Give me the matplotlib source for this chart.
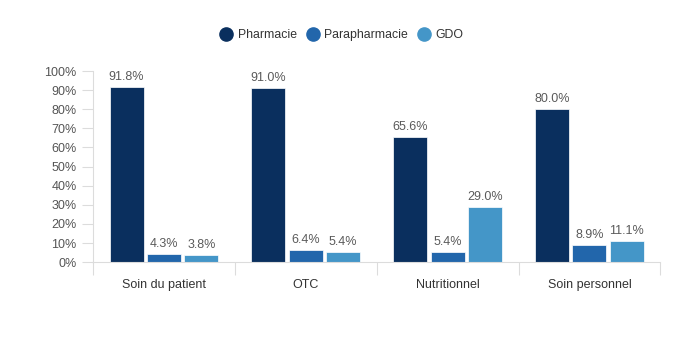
import numpy as np
import matplotlib
matplotlib.use("Agg")
import matplotlib.pyplot as plt
from matplotlib.lines import Line2D

plt.rcParams['font.family'] = ['Liberation Sans', 'DejaVu Sans']

categories = ['Soin du patient', 'OTC', 'Nutritionnel', 'Soin personnel']
series_names = ['Pharmacie', 'Parapharmacie', 'GDO']
pharmacie = [91.8, 91.0, 65.6, 80.0]
parapharmacie = [4.3, 6.4, 5.4, 8.9]
gdo = [3.8, 5.4, 29.0, 11.1]
colors = ['#0a2f5e', '#2266ab', '#4496c8']

fig = plt.figure(figsize=(6.8, 3.4), dpi=100)
ax = fig.add_axes([0.137, 0.229, 0.834, 0.562])

x = np.arange(len(categories))
width = 0.24
offset = 0.264
for i, (vals, name) in enumerate(zip([pharmacie, parapharmacie, gdo], series_names)):
    pos = x + (i - 1) * offset
    ax.bar(pos, vals, width=width, color=colors[i], edgecolor='white', linewidth=0.5)
    for p, v in zip(pos, vals):
        ax.text(p, v + 2, f'{v:.1f}%', ha='center', va='bottom', fontsize=9, color='#5a5a5a')

ax.set_xlim(-0.5, len(categories) - 0.5)
ax.set_ylim(0, 100)
ax.set_yticks(np.arange(0, 101, 10))
ax.set_yticklabels([f'{t}%' for t in range(0, 101, 10)])
ax.set_xticks(x)
ax.set_xticklabels(categories)
ax.set_xticks(np.arange(-0.5, len(categories), 1), minor=True)
ax.tick_params(axis='x', which='major', length=0, pad=12, labelsize=9, labelcolor='#333333')
ax.tick_params(axis='x', which='minor', length=9, color='#dcdcdc', width=0.8)
ax.tick_params(axis='y', length=8, color='#dcdcdc', width=0.8, labelsize=9, labelcolor='#555555', pad=4)

for s in ['top', 'right']:
    ax.spines[s].set_visible(False)
for s in ['bottom', 'left']:
    ax.spines[s].set_color('#dcdcdc')
    ax.spines[s].set_linewidth(0.8)

handles = [Line2D([0], [0], marker='o', linestyle='', markersize=9.5, markerfacecolor=c, markeredgecolor=c)
           for c in colors]
fig.legend(handles, series_names, loc='center', bbox_to_anchor=(0.502, 0.897), ncol=3, frameon=False,
           fontsize=8.8, handlelength=1.2, handletextpad=0.35, columnspacing=0.7, labelcolor='#333333')

plt.savefig('out.png', dpi=100)
